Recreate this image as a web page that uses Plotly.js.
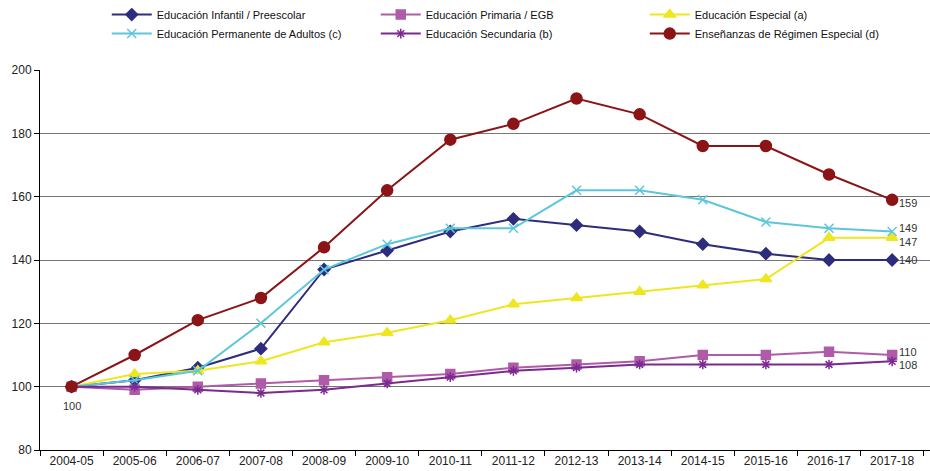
<!DOCTYPE html>
<html><head><meta charset="utf-8">
<script src="https://cdn.plot.ly/plotly-3.0.1.min.js"></script>
<style>html,body{margin:0;padding:0;background:#fff}#chart{width:930px;height:471px}</style>
</head><body><div id="chart"></div>
<script>
const categories = ["2004-05","2005-06","2006-07","2007-08","2008-09","2009-10","2010-11","2011-12","2012-13","2013-14","2014-15","2015-16","2016-17","2017-18"];
const infantil   = [100,102,106,112,137,143,149,153,151,149,145,142,140,140];
const primaria   = [100,99,100,101,102,103,104,106,107,108,110,110,111,110];
const especial   = [100,104,105,108,114,117,121,126,128,130,132,134,147,147];
const adultos    = [100,102,105,120,137,145,150,150,162,162,159,152,150,149];
const secundaria = [100,100,99,98,99,101,103,105,106,107,107,107,107,108];
const regimen    = [100,110,121,128,144,162,178,183,191,186,176,176,167,159];
const names = ["Educación Infantil / Preescolar","Educación Primaria / EGB","Educación Especial (a)","Educación Permanente de Adultos (c)","Educación Secundaria (b)","Enseñanzas de Régimen Especial (d)"];

const series = [
  {y: infantil, color:"#2E2C7C", symbol:"diamond", size:9, dy:0},
  {y: primaria, color:"#B05BA8", symbol:"square", size:9, dy:3},
  {y: especial, color:"#EEE620", symbol:"triangle-up", size:10, dy:-4},
  {y: adultos, color:"#5CC7DA", symbol:"x-thin-open", size:9, dy:4},
  {y: secundaria, color:"#7B2A90", symbol:"asterisk-open", size:8, dy:-4},
  {y: regimen, color:"#8B1416", symbol:"circle", size:11, dy:-3}
];
const traces = series.map((s,i)=>({
  x: categories, y: s.y, name: names[i], type:"scatter", mode:"lines+markers",
  line:{color:s.color, width:2},
  marker:{symbol:s.symbol, size:s.size, color:s.color, line:{color:s.color, width:1.5}},
  cliponaxis:false
}));

const last = categories.length-1;
const annotations = series.map(s=>({
  x: categories[last], y: s.y[last], text: String(s.y[last]), showarrow:false,
  xanchor:"left", xshift:5, yshift:s.dy, font:{family:"Liberation Sans, Arial", size:11, color:"#333"}
}));
annotations.push({x: categories[0], y: infantil[0], text: String(infantil[0]), showarrow:false,
  yshift:-19, font:{family:"Liberation Sans, Arial", size:11, color:"#333"}});

const layout = {
  width:930, height:471,
  margin:{l:40, r:0, t:70, b:21, autoexpand:false},
  paper_bgcolor:"#fff", plot_bgcolor:"#fff",
  font:{family:"Liberation Sans, Arial", size:12, color:"#222"},
  showlegend:true,
  legend:{orientation:"h", x:0.075, xanchor:"left", y:1.184, yanchor:"top",
    font:{size:11, color:"#111"}, entrywidth:214, entrywidthmode:"pixels", tracegroupgap:0, traceorder:"normal",
    itemwidth:40, bgcolor:"rgba(0,0,0,0)"},
  xaxis:{type:"category", range:[-0.5,13.6], showgrid:false, showline:true, linecolor:"#000", linewidth:1,
    ticks:"outside", ticklen:5, tickcolor:"#000", tickson:"boundaries", tickfont:{size:12, color:"#222"}},
  yaxis:{range:[80,200], dtick:20, showgrid:true, gridcolor:"#777", gridwidth:1, zeroline:false,
    showline:true, linecolor:"#000", linewidth:1, ticks:"outside", ticklen:5, tickcolor:"#000",
    tickfont:{size:12, color:"#222"}},
  annotations: annotations
};
Plotly.newPlot("chart", traces, layout, {displayModeBar:false, staticPlot:true});
</script></body></html>
